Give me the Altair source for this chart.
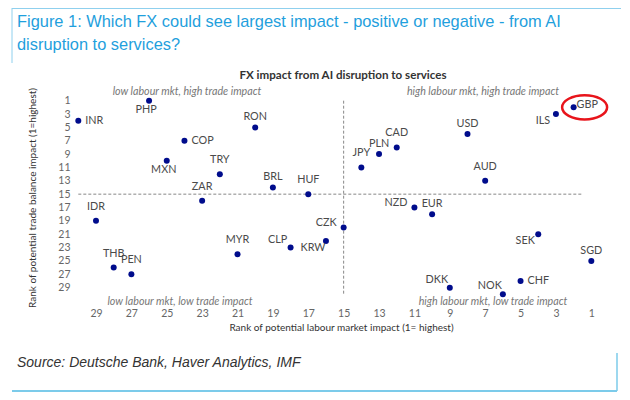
import altair as alt
import pandas as pd

# ---------------- data ----------------
currencies = ["PHP", "INR", "RON", "COP", "MXN", "TRY", "BRL", "HUF", "ZAR", "IDR",
              "THB", "PEN", "MYR", "CLP", "KRW", "CZK", "GBP", "ILS", "USD", "CAD",
              "PLN", "JPY", "AUD", "NZD", "EUR", "SEK", "SGD", "CHF", "DKK", "NOK"]
labour_rank = [26, 30, 20, 24, 25, 22, 19, 17, 23, 29,
               28, 27, 21, 18, 16, 15, 2, 3, 8, 12,
               13, 14, 7, 11, 10, 4, 1, 5, 9, 6]
trade_rank = [1, 4, 5, 7, 10, 12, 14, 15, 16, 19,
              26, 27, 24, 23, 22, 20, 2, 3, 6, 8,
              9, 11, 13, 17, 18, 21, 25, 28, 29, 30]
x_ticks = [29, 27, 25, 23, 21, 19, 17, 15, 13, 11, 9, 7, 5, 3, 1]
y_ticks = [1, 3, 5, 7, 9, 11, 13, 15, 17, 19, 21, 23, 25, 27, 29]
mid_rank = 15
highlight = "GBP"

title_lines = ["Figure 1: Which FX could see largest impact - positive or negative - from AI",
               "disruption to services?"]
chart_title = "FX impact from AI disruption to services"
quadrants = ["low labour mkt, high trade impact", "high labour mkt, high trade impact",
             "low labour mkt, low trade impact", "high labour mkt, low trade impact"]
x_title = "Rank of potential labour market impact (1= highest)"
y_title = "Rank of potential trade balance impact (1=highest)"
source = "Source: Deutsche Bank, Haver Analytics, IMF"

# ---------------- label placement (styling) ----------------
label_pos = {
    "RON": "t1", "BRL": "t1", "USD": "t1", "EUR": "t1", "SGD": "t1", "PLN": "t1",
    "TRY": "t2", "HUF": "t2", "ZAR": "t2", "IDR": "t2", "THB": "t2", "PEN": "t2",
    "MYR": "t2", "CAD": "t2", "AUD": "t2", "JPY": "t2",
    "CLP": "tl", "DKK": "tl", "NOK": "tl",
    "PHP": "b", "MXN": "b",
    "KRW": "bl", "ILS": "bl", "SEK": "bl",
    "INR": "r", "COP": "r", "CHF": "r",
    "GBP": "r2",
    "CZK": "l", "NZD": "l",
}
placements = {
    "t1": dict(align="center", dx=0, dy=-10),
    "t2": dict(align="center", dx=0, dy=-14),
    "tl": dict(align="center", dx=-13, dy=-8),
    "b": dict(align="center", dx=-3, dy=9),
    "bl": dict(align="center", dx=-13, dy=7),
    "r": dict(align="left", dx=7, dy=0),
    "r2": dict(align="left", dx=3, dy=-2),
    "l": dict(align="right", dx=-7, dy=-5),
}

df = pd.DataFrame({"ccy": currencies, "labour": labour_rank, "trade": trade_rank})
df["pos"] = df["ccy"].map(label_pos)

# ---------------- layout ----------------
PAD_L, PAD_T, PAD_R, PAD_B = 65, 86, 12, 91
W, H = 536, 207


def vx(page_x):
    return page_x - 8 - PAD_L


def vy(page_y):
    return page_y - 8 - PAD_T


FONT = "Lato"
NAVY = "#000c8c"
BLUE = "#1fa0dd"
LIGHT = "#8fd0ee"

xscale = alt.Scale(domain=[0, 30.3], reverse=True, nice=False, zero=False)
yscale = alt.Scale(domain=[0, 31], reverse=True, nice=False, zero=False)
xaxis = alt.Axis(values=x_ticks, domain=False, ticks=False, grid=False,
                 labelFont=FONT, labelFontSize=10.5, labelColor="#666666",
                 labelPadding=7, titleFont=FONT, titleFontSize=10,
                 titleFontWeight="normal", titleColor="#333333", titlePadding=4)
yaxis = alt.Axis(values=y_ticks, domain=False, ticks=False, grid=False,
                 labelFont=FONT, labelFontSize=10.5, labelColor="#666666",
                 labelPadding=3, titleFont=FONT, titleFontSize=10,
                 titleFontWeight="normal", titleColor="#333333", titlePadding=20)


def X(field):
    return alt.X(field, type="quantitative", scale=xscale, axis=xaxis, title=x_title)


def Y(field):
    return alt.Y(field, type="quantitative", scale=yscale, axis=yaxis, title=y_title)


base = alt.Chart(df)

points = base.mark_circle(size=36, color=NAVY, opacity=1).encode(x=X("labour"), y=Y("trade"))

label_layers = []
for key, p in placements.items():
    label_layers.append(
        base.transform_filter(alt.datum.pos == key)
        .mark_text(font=FONT, fontSize=10.8, color="#4a4a4a", baseline="middle",
                   align=p["align"], dx=p["dx"], dy=p["dy"])
        .encode(x=X("labour"), y=Y("trade"), text="ccy:N")
    )

ring = (base.transform_filter(alt.datum.ccy == highlight)
        .mark_point(shape="M -1 0 A 1 0.54 0 1 0 1 0 A 1 0.54 0 1 0 -1 0",
                    size=2025, filled=False, stroke="#e8141b", strokeWidth=2.5,
                    opacity=1, xOffset=11)
        .encode(x=X("labour"), y=Y("trade")))

hline_df = pd.DataFrame({"labour": [30], "labour2": [1.5], "trade": [mid_rank]})
vline_df = pd.DataFrame({"labour": [mid_rank], "trade": [1], "trade2": [30]})
hline = alt.Chart(hline_df).mark_rule(color="#888888", strokeDash=[3, 2], strokeWidth=1).encode(
    x=X("labour"), x2="labour2:Q", y=Y("trade"))
vline = alt.Chart(vline_df).mark_rule(color="#888888", strokeDash=[3, 2], strokeWidth=1).encode(
    x=X("labour"), y=Y("trade"), y2="trade2:Q")

one = pd.DataFrame({"k": [0]})


def txt(text, px, py, **kw):
    return alt.Chart(one).mark_text(text=text, baseline="middle", **kw).encode(
        x=alt.value(vx(px)), y=alt.value(vy(py)))


def rule(x1, y1, x2, y2, **kw):
    if y1 == y2:
        return alt.Chart(one).mark_rule(**kw).encode(
            x=alt.value(vx(x1)), x2=alt.value(vx(x2)), y=alt.value(vy(y1)))
    return alt.Chart(one).mark_rule(**kw).encode(
        x=alt.value(vx(x1)), y=alt.value(vy(y1)), y2=alt.value(vy(y2)))


QFONT = dict(align="center", font=FONT, fontSize=10.7, fontStyle="italic", color="#777777")

deco = [
    rule(12, 8.5, 622, 8.5, color=LIGHT, strokeWidth=1),
    rule(12, 8, 12, 63, color=LIGHT, strokeWidth=1),
    txt(title_lines[0], 17, 22, align="left", font="Liberation Sans", fontSize=16.4, color=BLUE),
    txt(title_lines[1], 17, 45, align="left", font="Liberation Sans", fontSize=16.4, color=BLUE),
    txt(chart_title, 343, 76, align="center", font=FONT, fontSize=11.6, fontWeight="bold", color="#333333"),
    txt(quadrants[0], 187, 92, **QFONT),
    txt(quadrants[1], 483, 92, **QFONT),
    txt(quadrants[2], 180, 302, **QFONT),
    txt(quadrants[3], 493, 302, **QFONT),
    txt(source, 17, 363, align="left", font="Liberation Sans", fontSize=14, fontStyle="italic", color="#333333"),
    rule(12, 391, 617, 391, color="#7ccbea", strokeWidth=2),
    rule(617, 353, 617, 391, color="#7ccbea", strokeWidth=1.5),
]

chart = alt.layer(hline, vline, points, ring, *label_layers, *deco).properties(
    width=W, height=H,
    padding={"left": PAD_L, "top": PAD_T, "right": PAD_R, "bottom": PAD_B},
    autosize=alt.AutoSizeParams(type="none"),
    background="white",
).configure_view(stroke="transparent")

chart.save("out.html", embed_options={"renderer": "svg", "actions": False})
